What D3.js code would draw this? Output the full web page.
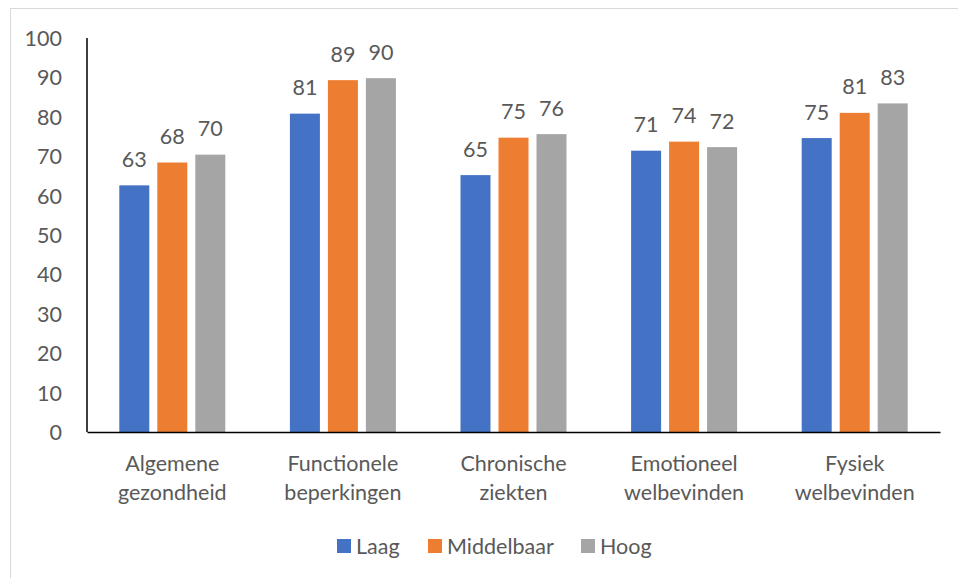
<!DOCTYPE html>
<html>
<head>
<meta charset="utf-8">
<script src="https://cdn.jsdelivr.net/npm/d3@7"></script>
<style>
  html, body { margin: 0; padding: 0; background: #fff; }
  svg { display: block; }
  text { font-family: Lato, "Open Sans", sans-serif; fill: #595959; }
</style>
</head>
<body>
<svg id="chart" width="958" height="578"></svg>
<script>
const categories = [["Algemene", "gezondheid"], ["Functionele", "beperkingen"], ["Chronische", "ziekten"], ["Emotioneel", "welbevinden"], ["Fysiek", "welbevinden"]];
const seriesNames = ["Laag", "Middelbaar", "Hoog"];
const laag = [62.6, 80.8, 65.2, 71.4, 74.6];
const middelbaar = [68.4, 89.3, 74.7, 73.7, 81.0];
const hoog = [70.4, 89.8, 75.6, 72.3, 83.4];
const yTicks = [0, 10, 20, 30, 40, 50, 60, 70, 80, 90, 100];
const colors = ["#4472C4", "#ED7D31", "#A5A5A5"];

const seriesValues = [laag, middelbaar, hoog];
const svg = d3.select("#chart");
const FS = "21.5px";

// chart frame
svg.append("rect").attr("x", 10.5).attr("y", 8.5).attr("width", 960).attr("height", 580)
  .attr("fill", "none").attr("stroke", "#D9D9D9").attr("stroke-width", 1);

const pLeft = 87, pRight = 940, pTop = 38, pBottom = 432;
const catIdx = categories.map((d, i) => i);
const x0 = d3.scaleBand().domain(catIdx).range([pLeft, pRight]).padding(0);
const x1 = d3.scalePoint().domain(seriesNames).range([-38, 38]);
const barW = 30;
const y = d3.scaleLinear().domain([0, 100]).range([pBottom, pTop]);

// y tick labels
const yAxis = d3.axisLeft(y).tickValues(yTicks).tickSize(0).tickPadding(25).tickFormat(d3.format("d"));
const gy = svg.append("g").attr("transform", `translate(${pLeft},0)`).call(yAxis);
gy.select(".domain").remove();
gy.selectAll("text").style("font-family", "Lato, sans-serif").style("font-size", FS).attr("fill", "#595959").attr("dy", "0.35em");

// bars
seriesNames.forEach((s, si) => {
  svg.append("g").selectAll("rect").data(seriesValues[si]).join("rect")
    .attr("x", (d, i) => x0(i) + x0.bandwidth() / 2 + x1(s) - barW / 2)
    .attr("width", barW)
    .attr("y", d => y(d))
    .attr("height", d => y(0) - y(d))
    .attr("fill", colors[si]);
  svg.append("g").selectAll("text").data(seriesValues[si]).join("text")
    .attr("x", (d, i) => x0(i) + x0.bandwidth() / 2 + x1(s))
    .attr("y", d => y(d) - 18.5)
    .attr("text-anchor", "middle")
    .style("font-size", FS)
    .text(d => Math.round(d));
});

// axes lines
svg.append("line").attr("x1", pLeft).attr("x2", pLeft).attr("y1", pTop).attr("y2", pBottom)
  .attr("stroke", "#000").attr("stroke-width", 1.5);
const xAxis = d3.axisBottom(x0).tickSize(0).tickFormat("");
const gx = svg.append("g").attr("transform", `translate(0,${pBottom})`).call(xAxis);
gx.select(".domain").attr("stroke", "#000").attr("stroke-width", 1.5);

// category labels
const cl = svg.append("g").selectAll("text").data(categories).join("text")
  .attr("x", (d, i) => x0(i) + x0.bandwidth() / 2)
  .attr("y", 471)
  .attr("text-anchor", "middle")
  .style("font-size", FS);
cl.selectAll("tspan").data(d => d).join("tspan")
  .attr("x", function () { return d3.select(this.parentNode).attr("x"); })
  .attr("dy", (d, i) => i === 0 ? 0 : 28.5)
  .text(d => d);

// legend
const legendX = [337, 428, 581];
const lg = svg.append("g").selectAll("g").data(seriesNames).join("g")
  .attr("transform", (d, i) => `translate(${legendX[i]},539)`);
lg.append("rect").attr("width", 14).attr("height", 14).attr("fill", (d, i) => colors[i]);
lg.append("text").attr("x", 19).attr("y", 7).attr("dy", "0.35em").style("font-size", FS).text(d => d);
</script>
</body>
</html>
